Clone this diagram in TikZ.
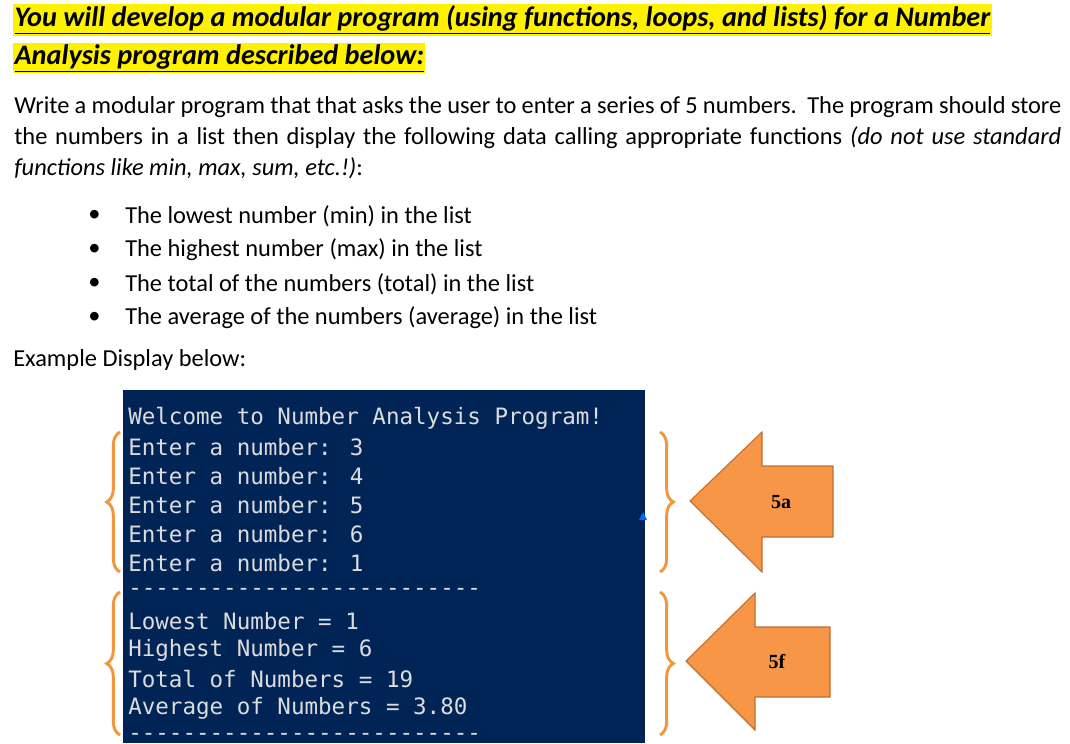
\documentclass[tikz,border=0pt]{standalone}
\usepackage{fontspec}
\setmainfont{Carlito}
\newfontfamily\consolefont{DejaVu Sans Mono}
\newfontfamily\tagfont{Liberation Serif}
\usetikzlibrary{decorations.pathreplacing}
\definecolor{consolebg}{RGB}{1,36,86}
\definecolor{consoletext}{RGB}{220,220,220}
\definecolor{bracecol}{RGB}{240,150,60}
\definecolor{arrowfill}{RGB}{247,150,70}
\definecolor{arrowedge}{RGB}{190,110,50}
\tikzset{
  heading/.style={anchor=west, fill=yellow, inner sep=1pt, font=\fontsize{21.2}{23}\selectfont\bfseries\itshape},
  bodytext/.style={anchor=west, inner sep=0pt, font=\fontsize{18.3}{23.3}\selectfont},
  conline/.style={anchor=west, inner sep=0pt, text=consoletext, font=\consolefont\fontsize{16.9}{18}\selectfont},
  curly/.style={draw=bracecol, line width=2.2pt, decorate, decoration={brace, amplitude=10pt}},
  bigarrow/.style={fill=arrowfill, draw=arrowedge, line width=0.8pt},
  tagtext/.style={font=\tagfont\bfseries\fontsize{15}{16}\selectfont}
}
\begin{document}
\begin{tikzpicture}[x=0.75pt, y=-0.75pt]
  \useasboundingbox (0,0) rectangle (1070,743);
  % heading
  \node[heading] (head1) at (13,20) {\underline{You will develop a modular program (using functions, loops, and lists) for a Number}};
  \node[heading] (head2) at (13,58) {\underline{Analysis program described below:}};

  % paragraph
  \node[bodytext, anchor=north west, text width=1047*0.75pt, align=justify] (intro) at (14,96)
    {Write a modular program that that asks the user to enter a series of 5 numbers.\ \ The program should store
    the numbers in a list then display the following data calling appropriate functions \textit{(do not use standard
    functions like min, max, sum, etc.!)}:};

  % bullets
  \foreach \txt [count=\i] in {The lowest number (min) in the list,
      The highest number (max) in the list,
      The total of the numbers (total) in the list,
      The average of the numbers (average) in the list}{
    \node[bodytext] (dot\i) at (88,182+34*\i) {\textbullet};
    \node[bodytext] (item\i) at (125,182+34*\i) {\txt};
  }
  \node[bodytext] (example) at (13,360) {Example Display below:};

  % console window
  \fill[consolebg] (123,390) rectangle (645,743);
  \foreach \txt [count=\i] in {Welcome to Number Analysis Program!,
      Enter a number: 3, Enter a number: 4, Enter a number: 5,
      Enter a number: 6, Enter a number: 1,
      --------------------------,
      Lowest Number = 1, Highest Number = 6,
      Total of Numbers = 19, Average of Numbers = 3.80,
      --------------------------}{
    \node[conline] (line\i) at (128,389+29*\i) {\txt};
  }
  \fill[blue!60!cyan] (643,512) -- (647,520) -- (639,520) -- cycle;

  % braces
  \draw[curly] (120,572) -- (120,432);
  \draw[curly] (120,735) -- (120,592);
  \draw[curly] (660,432) -- (660,572);
  \draw[curly] (660,592) -- (660,735);

  % arrows
  \draw[bigarrow] (690,501) -- (762,432) -- (762,466) -- (833,466) -- (833,537)
    -- (762,537) -- (762,572) -- cycle;
  \node[tagtext] (tag5a) at (781,502) {5a};
  \draw[bigarrow] (686,661) -- (755,593) -- (755,627) -- (830,627) -- (830,697)
    -- (755,697) -- (755,730) -- cycle;
  \node[tagtext] (tag5f) at (777,662) {5f};
\end{tikzpicture}
\end{document}
